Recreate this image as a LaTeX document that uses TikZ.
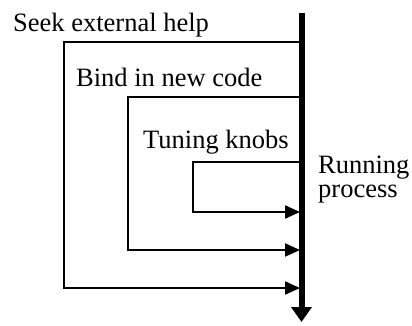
\documentclass[tikz,border=0pt]{standalone}
\usepackage{fontspec}
\setmainfont{Liberation Serif}
\usetikzlibrary{arrows.meta}
\begin{document}
\begin{tikzpicture}[x=1pt,y=-1pt,
  lbl/.style={anchor=base west,inner sep=0pt,font=\fontsize{26.5}{28}\selectfont},
  loop/.style={line width=2pt,-{Triangle[length=15pt,width=13pt]}},
  axis/.style={line width=6pt,-{Triangle[length=15pt,width=20pt]}}]
\useasboundingbox[fill=white] (0,0) rectangle (412,325);
\coordinate (top) at (301.5,13);
\coordinate (bot) at (301.5,322);
\coordinate (s1) at (301.5,41.5);
\coordinate (e1) at (300,288);
\coordinate (s2) at (301.5,97);
\coordinate (e2) at (300,250);
\coordinate (s3) at (301.5,162);
\coordinate (e3) at (300,212);
\draw[loop] (s1) -| (64,288) -- (e1);
\draw[loop] (s2) -| (128,250) -- (e2);
\draw[loop] (s3) -| (193,212) -- (e3);
\draw[axis] (top) -- (bot);
\node[lbl] (seek) at (13,31) {Seek external help};
\node[lbl] (bind) at (76,86) {Bind in new code};
\node[lbl] (tune) at (143,148) {Tuning knobs};
\node[lbl] (run) at (318,173) {Running};
\node[lbl] (proc) at (318,197) {process};
\end{tikzpicture}
\end{document}
